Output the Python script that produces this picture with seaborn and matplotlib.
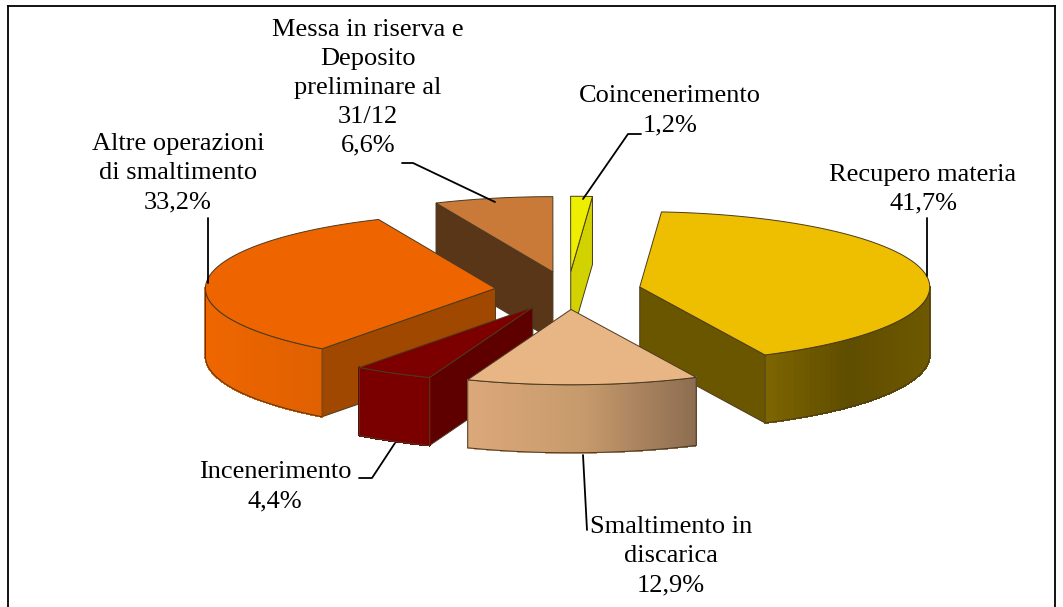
import numpy as np
import matplotlib
matplotlib.use("Agg")
import matplotlib.pyplot as plt
from matplotlib.patches import Polygon
from matplotlib.collections import PolyCollection
from matplotlib.colors import to_rgb
import seaborn as sns

# ---- data (clockwise from the first slice) ----
categories = ["Recupero materia", "Smaltimento in\ndiscarica", "Incenerimento",
              "Altre operazioni\ndi smaltimento",
              "Messa in riserva e\nDeposito\npreliminare al\n31/12", "Coincenerimento"]
values = [41.7, 12.9, 4.4, 33.2, 6.6, 1.2]

# ---- styles ----
top_colors = ["#EDBF00", "#E8B585", "#7D0000", "#EE6500", "#C97A38", "#EEEE00"]
cut_colors = ["#6B5600", "#8C6C50", "#5E0000", "#A04800", "#5A3618", "#D2D200"]
# outer wall gradient: colour stops from screen left to screen right
wall_stops = [["#7D6500", "#5F4D00", "#6E5900"],
              ["#DBA87A", "#C69A6C", "#8C6C50"],
              ["#7A0000", "#7A0000"],
              ["#EE6600", "#E06000"],
              ["#5A3618", "#5A3618"],
              ["#D2D200", "#D2D200"]]
draw_order = [4, 5, 3, 2, 0, 1]
edge = "#4A3A20"
start_deg = 4.3
cx, cy, rx, ry, depth, explode = 568, 290.5, 290, 75.3, 68, 73

# label anchor (centre x, centre y of block) and leaders
label_pos = [(923, 189), (671, 556), (275, 486.5), (178, 173), (368, 88), (670, 110.5)]
leaders = [[(927, 218), (927, 276)],
           [(583, 455), (587, 530)],
           [(359, 478), (372, 478), (395, 443)],
           [(208, 218), (208, 283)],
           [(402, 163), (413, 163), (495, 202)],
           [(583, 199), (628, 134), (641, 134)]]

W, H = 1063, 607
sns.set_theme(style="white")
plt.rcParams["font.family"] = ["Liberation Serif", "DejaVu Serif"]
fig = plt.figure(figsize=(W / 100, H / 100), dpi=100, facecolor="white")
ax = fig.add_axes([8 / W, 0, (1055 - 8) / W, 1 - 6 / H])
ax.set_xlim(8, 1055)
ax.set_ylim(607, 6)
ax.set_xticks([])
ax.set_yticks([])
sns.despine(ax=ax, top=False, right=False, left=False, bottom=True)
for s in ("left", "top", "right"):
    ax.spines[s].set_color("black")
    ax.spines[s].set_linewidth(1.3)

angles = np.cumsum([0] + values) / sum(values) * 360 + start_deg


def rim(apex, deg):
    t = np.radians(deg)
    return apex[0] + rx * np.sin(t), apex[1] - ry * np.cos(t)


def lerp_stops(stops, f):
    rgb = np.array([to_rgb(c) for c in stops])
    pos = np.linspace(0, 1, len(stops))
    return tuple(np.interp(f, pos, rgb[:, k]) for k in range(3))


for z, i in enumerate(draw_order):
    a1, a2 = angles[i], angles[i + 1]
    mid = np.radians((a1 + a2) / 2)
    apex = (cx + explode * np.sin(mid), cy - explode * (ry / rx) * np.cos(mid))
    zb = 2 + z * 2
    # cut faces
    for a, vis in ((a1, np.sin(np.radians(a1)) < -1e-3), (a2, np.sin(np.radians(a2)) > 1e-3)):
        if vis:
            p = rim(apex, a)
            ax.add_patch(Polygon([apex, p, (p[0], p[1] + depth), (apex[0], apex[1] + depth)],
                                 closed=True, fc=cut_colors[i], ec=edge, lw=0.7, zorder=zb))
    # outer wall: strips on the part of the rim facing the viewer
    deg = np.linspace(a1, a2, 120)
    deg = deg[np.cos(np.radians(deg)) < 0.02]
    if len(deg) > 1:
        pts = np.array([rim(apex, d) for d in deg])
        xmin, xmax = pts[:, 0].min(), pts[:, 0].max()
        quads, cols = [], []
        for k in range(len(pts) - 1):
            p, q = pts[k], pts[k + 1]
            quads.append([p, q, (q[0], q[1] + depth), (p[0], p[1] + depth)])
            cols.append(lerp_stops(wall_stops[i], ((p[0] + q[0]) / 2 - xmin) / max(xmax - xmin, 1)))
        ax.add_collection(PolyCollection(quads, facecolors=cols, edgecolors=cols, linewidths=0.8,
                                         antialiased=False, zorder=zb))
        outline = np.vstack([pts, (pts + [0, depth])[::-1]])
        ax.add_patch(Polygon(outline, closed=True, fc="none", ec=edge, lw=0.7, zorder=zb))
    # top face
    arc = [rim(apex, d) for d in np.linspace(a1, a2, 200)]
    ax.add_patch(Polygon([apex] + arc, closed=True, fc=top_colors[i], ec=edge, lw=0.7, zorder=zb + 1))

for i, (name, val) in enumerate(zip(categories, values)):
    txt = f"{name}\n{val:.1f}%".replace(".", ",")
    ax.text(label_pos[i][0], label_pos[i][1], txt, ha="center", va="center",
            fontsize=19, color="black", linespacing=1.41, zorder=30)

for seg in leaders:
    xs, ys = zip(*seg)
    sns.lineplot(x=list(xs), y=list(ys), sort=False, estimator=None, color="black",
                 linewidth=1.3, ax=ax, zorder=25)

ax.set_xlim(8, 1055)
ax.set_ylim(607, 6)
ax.set_xlabel("")
ax.set_ylabel("")
fig.savefig("out.png", dpi=100)
